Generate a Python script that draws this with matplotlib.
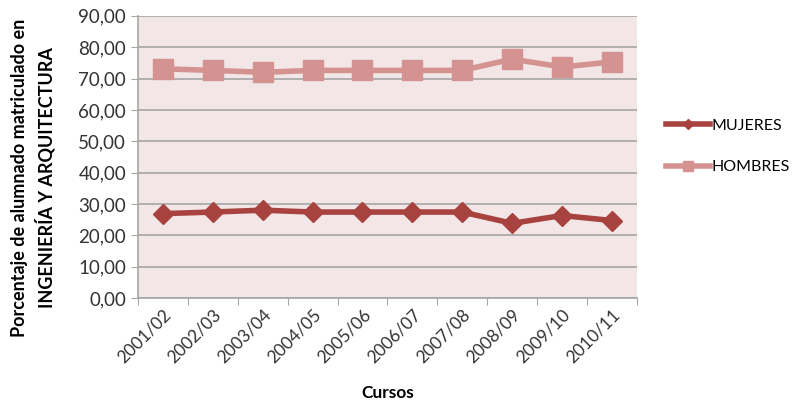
import numpy as np
import matplotlib.pyplot as plt
from matplotlib.ticker import FuncFormatter

cursos = ['2001/02', '2002/03', '2003/04', '2004/05', '2005/06',
          '2006/07', '2007/08', '2008/09', '2009/10', '2010/11']
mujeres = [26.9, 27.4, 28.0, 27.4, 27.4, 27.4, 27.4, 23.8, 26.3, 24.7]
hombres = [73.1, 72.6, 72.0, 72.6, 72.6, 72.6, 72.6, 76.2, 73.7, 75.3]

plt.rcParams['font.family'] = ['Lato', 'DejaVu Sans']

fig = plt.figure(figsize=(7.98, 4.07), dpi=100)
ax = fig.add_axes([0.173, 0.268, 0.625, 0.693])
ax.set_facecolor('#f2e6e6')

x = np.arange(len(cursos))
ax.plot(x, mujeres, color='#a8423f', lw=4, marker='D', ms=10, label='MUJERES')
ax.plot(x, hombres, color='#d49391', lw=4, marker='s', ms=14, label='HOMBRES')

ax.set_xlim(-0.5, len(cursos) - 0.5)
ax.set_ylim(0, 90)
ax.set_yticks(np.arange(0, 91, 10))
ax.yaxis.set_major_formatter(FuncFormatter(lambda v, p: f'{v:.2f}'.replace('.', ',')))
ax.yaxis.grid(True, color='#a6a6a6', lw=1.2)
ax.set_axisbelow(True)

# category ticks sit on the boundaries, labels on the centres
ax.set_xticks(np.arange(-0.5, len(cursos), 1))
ax.set_xticklabels([])
ax.set_xticks(x, minor=True)
ax.set_xticklabels(cursos, minor=True, rotation=45, ha='right', rotation_mode='anchor',
                   fontsize=12.5, color='#333333')
ax.tick_params(axis='x', which='minor', length=0, pad=6)
ax.tick_params(axis='x', which='major', length=5, color='#a6a6a6')
ax.tick_params(axis='y', length=5, color='#a6a6a6', labelsize=13.5, labelcolor='#333333')

for side in ['top', 'right']:
    ax.spines[side].set_visible(False)
for side in ['left', 'bottom']:
    ax.spines[side].set_color('#a6a6a6')
    ax.spines[side].set_linewidth(1.2)

ax.set_xlabel('Cursos', fontsize=12.5, fontweight='bold', labelpad=14)
ax.set_ylabel('Porcentaje de alumnado matriculado en\nINGENIERÍA Y ARQUITECTURA',
              fontsize=13, fontweight='bold', linespacing=1.4)
ax.yaxis.set_label_coords(-0.166, 0.425)

fig.legend(loc='center left', bbox_to_anchor=(0.834, 0.64), frameon=False,
           fontsize=11.5, handlelength=2.8, handletextpad=0.05, labelspacing=1.7,
           markerscale=0.55, borderpad=0, borderaxespad=0)

fig.savefig('out.png', dpi=100)
